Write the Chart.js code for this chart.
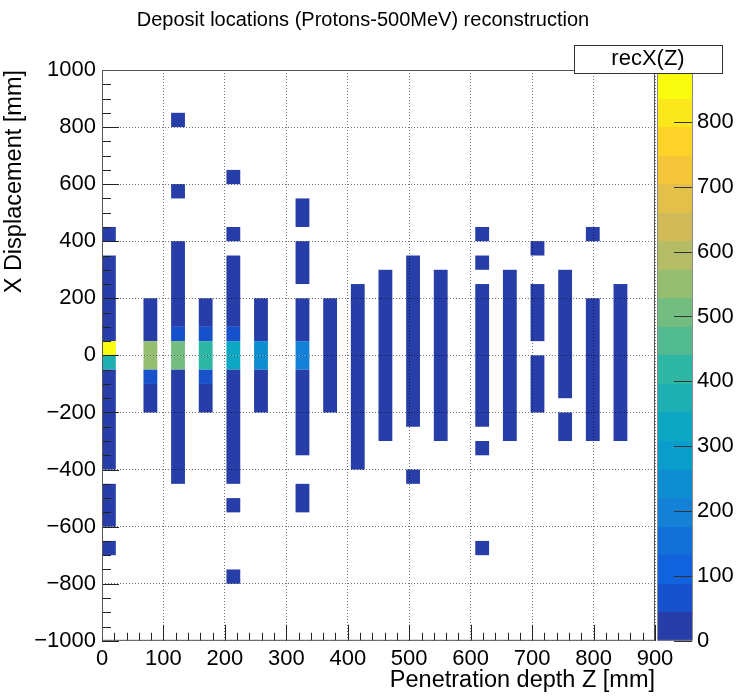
<!DOCTYPE html>
<html>
<head>
<meta charset="utf-8">
<script src="https://cdn.jsdelivr.net/npm/chart.js@4.4.0/dist/chart.umd.min.js"></script>
<style>
  html, body { margin: 0; background: #fff; }
  canvas { display: block; }
</style>
</head>
<body>
<canvas id="c" width="739" height="696"></canvas>
<script>
"use strict";
// recX(Z) : 40 x 40 bins, 22.5 mm in Z, 50 mm in X. Empty bins are not drawn.

const zBinWidth = 22.5;
// lower Z edge of every filled column
const colZ = [0, 67.5, 112.5, 157.5, 202.5, 247.5, 315, 360, 405,
              450, 495, 540, 607.5, 652.5, 697.5, 742.5, 787.5, 832.5];

// [column, X low, X high, entries per bin]
const segments = [
  [0, 400, 450, 20], [0, 50, 350, 20], [0, 0, 50, 878], [0, -50, 0, 390],
  [0, -400, -50, 20], [0, -600, -450, 20], [0, -700, -650, 20],
  [1, 50, 200, 20], [1, 0, 50, 545], [1, -50, 0, 540], [1, -100, -50, 70], [1, -200, -100, 20],
  [2, 800, 850, 20], [2, 550, 600, 20], [2, 100, 400, 20], [2, 50, 100, 70],
  [2, 0, 50, 500], [2, -50, 0, 495], [2, -450, -50, 20],
  [3, 100, 200, 20], [3, 50, 100, 70], [3, 0, 50, 425], [3, -50, 0, 415],
  [3, -100, -50, 70], [3, -200, -100, 20],
  [4, 600, 650, 20], [4, 400, 450, 20], [4, 100, 350, 20], [4, 50, 100, 70],
  [4, 0, 50, 335], [4, -50, 0, 330], [4, -450, -50, 20], [4, -550, -500, 20], [4, -800, -750, 20],
  [5, 50, 200, 20], [5, 0, 50, 255], [5, -50, 0, 250], [5, -200, -50, 20],
  [6, 450, 550, 20], [6, 250, 400, 20], [6, 50, 200, 20], [6, 0, 50, 205],
  [6, -50, 0, 200], [6, -350, -50, 20], [6, -550, -450, 20],
  [7, -200, 200, 20],
  [8, -400, 250, 20],
  [9, -300, 300, 20],
  [10, -250, 350, 20], [10, -450, -400, 20],
  [11, -300, 300, 20],
  [12, 400, 450, 20], [12, 300, 350, 20], [12, -250, 250, 20], [12, -350, -300, 20], [12, -700, -650, 20],
  [13, -300, 300, 20],
  [14, 350, 400, 20], [14, 50, 250, 20], [14, -200, 0, 20],
  [15, -150, 300, 20], [15, -300, -200, 20],
  [16, 400, 450, 20], [16, -300, 200, 20],
  [17, -300, 250, 20],
];

const xTicks = [0, 100, 200, 300, 400, 500, 600, 700, 800, 900];
const yTicks = [-1000, -800, -600, -400, -200, 0, 200, 400, 600, 800, 1000];
const zTicks = [0, 100, 200, 300, 400, 500, 600, 700, 800];
const zMax = 880;
const nLevels = 20;

const FONT = "'Liberation Sans', Arial, Helvetica, sans-serif";
const minus = (v) => String(v).replace("-", "\u2212");

// ROOT kBird palette
const birdStops = [0, 0.125, 0.25, 0.375, 0.5, 0.625, 0.75, 0.875, 1];
const birdR = [0.2082, 0.0592, 0.0780, 0.0232, 0.1802, 0.5301, 0.8186, 0.9956, 0.9764];
const birdG = [0.1664, 0.3599, 0.5041, 0.6419, 0.7178, 0.7492, 0.7328, 0.7862, 0.9832];
const birdB = [0.5293, 0.8684, 0.8385, 0.7914, 0.6425, 0.4662, 0.3499, 0.1968, 0.0539];

function bird(t) {
  let i = 0;
  while (i < birdStops.length - 2 && t > birdStops[i + 1]) i++;
  const f = (t - birdStops[i]) / (birdStops[i + 1] - birdStops[i]);
  const c = (a) => Math.round(255 * (a[i] + f * (a[i + 1] - a[i])));
  return `rgb(${c(birdR)},${c(birdG)},${c(birdB)})`;
}
const levelColor = (k) => bird(Math.floor((k + 0.99) * 255 / nLevels) / 254);
const cellColor = (n) => levelColor(Math.min(nLevels - 1, Math.floor(n / zMax * nLevels)));

const th2Plugin = {
  id: "th2",
  beforeDraw(chart) {
    const { ctx, scales: { x, y } } = chart;
    ctx.save();
    for (const [c, lo, hi, n] of segments) {
      const x0 = x.getPixelForValue(colZ[c]), x1 = x.getPixelForValue(colZ[c] + zBinWidth);
      const y0 = y.getPixelForValue(hi), y1 = y.getPixelForValue(lo);
      ctx.fillStyle = cellColor(n);
      ctx.fillRect(x0, y0, x1 - x0, y1 - y0);
    }
    ctx.restore();
  },
  afterDraw(chart) {
    const { ctx, chartArea: a, scales: { x, y, z } } = chart;
    ctx.save();
    // tick marks (inside the frame, left and bottom only)
    ctx.strokeStyle = "#222";
    ctx.lineWidth = 1;
    ctx.beginPath();
    for (let v = -1000; v <= 1000; v += 50) {
      const py = Math.round(y.getPixelForValue(v)) + 0.5;
      ctx.moveTo(a.left, py);
      ctx.lineTo(a.left + (v % 200 === 0 ? 17 : 9), py);
    }
    for (let v = 0; v <= 900; v += 20) {
      const px = Math.round(x.getPixelForValue(v)) + 0.5;
      ctx.moveTo(px, a.bottom);
      ctx.lineTo(px, a.bottom - (v % 100 === 0 ? 16 : 8));
    }
    ctx.stroke();
    // frame
    ctx.strokeStyle = "#555";
    ctx.strokeRect(a.left + 0.5, a.top + 0.5, a.right - a.left - 1, a.bottom - a.top - 1);

    // palette
    const pl = 658, pr = 692;
    for (let k = 0; k < nLevels; k++) {
      const yb = z.getPixelForValue(k * zMax / nLevels);
      const yt = z.getPixelForValue((k + 1) * zMax / nLevels);
      ctx.fillStyle = levelColor(k);
      ctx.fillRect(pl, Math.round(yt), pr - pl, Math.round(yb) - Math.round(yt));
    }
    ctx.strokeStyle = "#888";
    ctx.strokeRect(pl - 0.5, a.top + 0.5, pr - pl + 1, a.bottom - a.top - 1);
    ctx.strokeStyle = "#333";
    ctx.beginPath();
    for (const v of zTicks) {
      const py = Math.round(z.getPixelForValue(v)) + 0.5;
      ctx.moveTo(pr, py);
      ctx.lineTo(pr - 18, py);
    }
    ctx.stroke();

    // title
    ctx.fillStyle = "#000";
    ctx.font = `20px ${FONT}`;
    ctx.textAlign = "center";
    ctx.textBaseline = "middle";
    ctx.fillText("Deposit locations (Protons-500MeV) reconstruction", 363, 20);

    // histogram name box
    ctx.fillStyle = "#fff";
    ctx.fillRect(574, 45, 148, 28);
    ctx.strokeStyle = "#333";
    ctx.strokeRect(574.5, 45.5, 148, 28);
    ctx.fillStyle = "#000";
    ctx.font = `22px ${FONT}`;
    ctx.fillText("recX(Z)", 648, 59);
    ctx.restore();
  },
};

const tickFont = { family: FONT, size: 22 };
const titleFont = { family: FONT, size: 23.5 };
const setTicks = (arr) => (s) => { s.ticks = arr.map((v) => ({ value: v })); };

new Chart(document.getElementById("c"), {
  type: "scatter",
  data: {
    datasets: [{
      data: segments.map(([c, lo, hi]) => ({ x: colZ[c] + zBinWidth / 2, y: (lo + hi) / 2 })),
      pointRadius: 0,
    }],
  },
  options: {
    responsive: false,
    animation: false,
    events: [],
    layout: { padding: { top: 70, left: 0, right: 0, bottom: 0 } },
    plugins: { legend: { display: false }, tooltip: { enabled: false } },
    scales: {
      x: {
        type: "linear", min: 0, max: 900,
        afterBuildTicks: setTicks(xTicks),
        afterFit: (s) => { s.height = 54; },
        ticks: { font: tickFont, color: "#000", padding: 5, maxRotation: 0, autoSkip: false,
                 callback: (v) => minus(v) },
        grid: { color: "rgba(0,0,0,0.55)", drawTicks: false },
        border: { display: false, dash: [1, 2] },
        title: { display: true, text: "Penetration depth Z [mm]", align: "end",
                 font: titleFont, color: "#000", padding: { top: 0, bottom: 0 } },
      },
      y: {
        type: "linear", min: -1000, max: 1000,
        afterBuildTicks: setTicks(yTicks),
        afterFit: (s) => { s.width = 102; },
        ticks: { font: tickFont, color: "#000", padding: 6, autoSkip: false,
                 callback: (v) => minus(v) },
        grid: { color: "rgba(0,0,0,0.55)", drawTicks: false },
        border: { display: false, dash: [1, 2] },
        title: { display: true, text: "X Displacement [mm]", align: "end",
                 font: titleFont, color: "#000", padding: { top: 0, bottom: 0 } },
      },
      z: {
        type: "linear", position: "right", min: 0, max: zMax,
        afterBuildTicks: setTicks(zTicks),
        afterFit: (s) => { s.width = 84; },
        ticks: { font: tickFont, color: "#000", padding: 42, autoSkip: false,
                 callback: (v) => String(v) },
        grid: { display: false, drawTicks: false },
        border: { display: false },
      },
    },
  },
  plugins: [th2Plugin],
});
</script>
</body>
</html>
